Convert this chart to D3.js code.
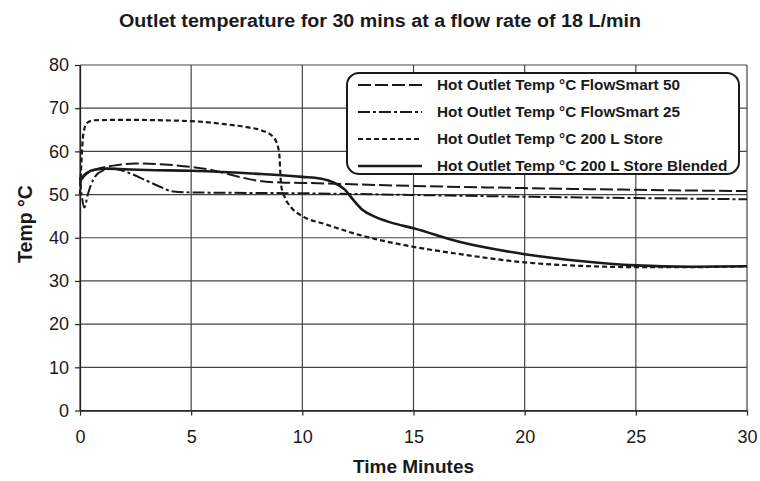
<!DOCTYPE html>
<html>
<head>
<meta charset="utf-8">
<script src="https://cdn.jsdelivr.net/npm/d3@7"></script>
<style>
  body { margin: 0; background: #fff; }
  text { font-family: "Liberation Sans", Arial, sans-serif; fill: #1a1a1a; }
</style>
</head>
<body>
<div id="chart"></div>
<script>
// chart data
var xTicks = [0, 5, 10, 15, 20, 25, 30];
var yTicks = [0, 10, 20, 30, 40, 50, 60, 70, 80];

var seriesNames = ["Hot Outlet Temp °C FlowSmart 50", "Hot Outlet Temp °C FlowSmart 25",
  "Hot Outlet Temp °C 200 L Store", "Hot Outlet Temp °C 200 L Store Blended"];

var fs50Time = [0, 0.3, 0.7, 1.5, 2.5, 4, 5, 6, 7, 8, 9, 10, 15, 20, 25, 30];
var fs50Temp = [53, 54.8, 55.8, 56.7, 57.2, 56.9, 56.4, 55.6, 54.3, 53.2, 52.8, 52.7, 52.0, 51.5, 51.1, 50.8];

var fs25Time = [0, 0.1, 0.2, 0.35, 0.6, 1.0, 1.5, 2.2, 3.0, 3.6, 4.2, 5, 10, 15, 20, 25, 30];
var fs25Temp = [54, 49, 47, 50, 53.5, 55.5, 56, 55, 53.2, 51.8, 50.7, 50.5, 50.3, 49.9, 49.5, 49.2, 48.9];

var storeTime = [0, 0.05, 0.15, 0.3, 0.6, 2, 5, 6.5, 7.5, 8.2, 8.7, 8.95, 9.05, 9.2, 9.5, 10, 11, 12.6, 15, 17.1, 20, 22.5, 25, 27.5, 30];
var storeTemp = [50, 56, 64, 66.5, 67.2, 67.3, 67.0, 66.3, 65.6, 64.8, 63.3, 60, 52, 49.5, 47, 45, 43.2, 40.6, 37.9, 36.2, 34.3, 33.5, 33.2, 33.2, 33.4];

var blendTime = [0, 0.3, 0.7, 1.2, 1.8, 3, 5, 8, 10, 10.8, 11.4, 11.9, 12.3, 12.7, 13.2, 14, 15, 17.1, 20, 22.5, 25, 27.5, 30];
var blendTemp = [53.5, 55, 55.8, 56, 55.9, 55.7, 55.5, 54.8, 54.1, 53.7, 52.8, 51.2, 48.7, 46.5, 45, 43.5, 42.2, 39.0, 36.2, 34.6, 33.6, 33.3, 33.4];

var dashes = ["13,4", "12,3,3,3", "5,3", null];
var widths = [2, 2, 2.2, 2.6];

var margin = {top: 65, right: 13, bottom: 70.5, left: 80},
  width = 760 - margin.left - margin.right,
  height = 481 - margin.top - margin.bottom;

var svg = d3.select("#chart").append("svg")
  .attr("width", 760)
  .attr("height", 481);

var g = svg.append("g")
  .attr("transform", "translate(" + margin.left + "," + margin.top + ")");

var x = d3.scaleLinear().domain([0, 30]).range([0, width]);
var y = d3.scaleLinear().domain([0, 80]).range([height, 0]);

// grid
g.append("g").selectAll("line.h")
  .data(yTicks).enter().append("line")
  .attr("x1", 0).attr("x2", width)
  .attr("y1", function(d) { return y(d); })
  .attr("y2", function(d) { return y(d); })
  .attr("stroke", "#444").attr("stroke-width", 1.2);
g.append("g").selectAll("line.v")
  .data(xTicks).enter().append("line")
  .attr("y1", 0).attr("y2", height)
  .attr("x1", function(d) { return x(d); })
  .attr("x2", function(d) { return x(d); })
  .attr("stroke", "#444").attr("stroke-width", 1.2);

// axes
var xAxis = g.append("g")
  .attr("transform", "translate(0," + height + ")")
  .call(d3.axisBottom(x).tickValues(xTicks).tickSize(5).tickPadding(15).tickSizeOuter(0));
var yAxis = g.append("g")
  .call(d3.axisLeft(y).tickValues(yTicks).tickSize(5).tickPadding(6).tickSizeOuter(0));
[xAxis, yAxis].forEach(function(a) {
  a.select(".domain").attr("stroke", "#222").attr("stroke-width", 1.3);
  a.selectAll(".tick line").attr("stroke", "#222").attr("stroke-width", 1.2);
  a.selectAll("text").style("font-size", "18px").style("font-family", "Liberation Sans, Arial, sans-serif").attr("fill", "#1a1a1a");
});

// lines
var line = d3.line()
  .x(function(d) { return x(d[0]); })
  .y(function(d) { return y(d[1]); })
  .curve(d3.curveMonotoneX);

var seriesData = [
  d3.zip(fs50Time, fs50Temp),
  d3.zip(fs25Time, fs25Temp),
  d3.zip(storeTime, storeTemp),
  d3.zip(blendTime, blendTemp)
];

g.selectAll("path.series")
  .data(seriesData).enter().append("path")
  .attr("class", "series")
  .attr("d", line)
  .attr("fill", "none")
  .attr("stroke", "#1a1a1a")
  .attr("stroke-width", function(d, i) { return widths[i]; })
  .attr("stroke-dasharray", function(d, i) { return dashes[i]; });

// legend
var legend = svg.append("g");
legend.append("rect")
  .attr("x", 347).attr("y", 73).attr("width", 392).attr("height", 101)
  .attr("rx", 12).attr("ry", 12)
  .attr("fill", "#fff").attr("stroke", "#1a1a1a").attr("stroke-width", 2);

var rows = legend.selectAll("g.row")
  .data(seriesNames).enter().append("g")
  .attr("transform", function(d, i) { return "translate(0," + (85 + i * 27) + ")"; });
rows.append("line")
  .attr("x1", 358).attr("x2", 422)
  .attr("stroke", "#1a1a1a")
  .attr("stroke-width", function(d, i) { return widths[i]; })
  .attr("stroke-dasharray", function(d, i) { return dashes[i]; });
rows.append("text")
  .attr("x", 437).attr("dy", "0.35em")
  .style("font-size", "15.3px").style("font-weight", "bold")
  .text(function(d) { return d; });

// titles
svg.append("text")
  .attr("x", 380).attr("y", 27)
  .attr("text-anchor", "middle")
  .style("font-size", "18px").style("font-weight", "bold")
  .attr("textLength", 522).attr("lengthAdjust", "spacingAndGlyphs")
  .text("Outlet temperature for 30 mins at a flow rate of 18 L/min");

svg.append("text")
  .attr("x", margin.left + width / 2).attr("y", 473)
  .attr("text-anchor", "middle")
  .style("font-size", "19px").style("font-weight", "bold")
  .text("Time Minutes");

svg.append("text")
  .attr("transform", "translate(32,224) rotate(-90)")
  .attr("text-anchor", "middle")
  .style("font-size", "19.5px").style("font-weight", "bold")
  .text("Temp °C");
</script>
</body>
</html>
